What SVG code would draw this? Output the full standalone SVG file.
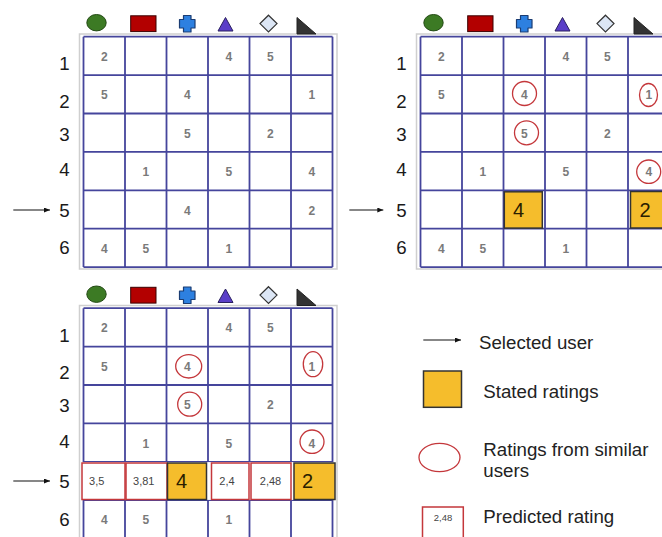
<svg xmlns="http://www.w3.org/2000/svg" width="662" height="537" viewBox="0 0 662 537">
<defs>
<style>
text{font-family:"Liberation Sans",Arial,sans-serif}
.n{font-size:12px;font-weight:bold;fill:#7a7a7a;text-anchor:middle}
.lbl{font-size:18.7px;fill:#1a1a1a;text-anchor:middle}
.big{font-size:20px;fill:#2a2000}
.pr{font-size:11px;fill:#444;text-anchor:middle}
.lg{font-size:18.7px;fill:#222}
.frame{fill:#fff;stroke:#cfcfcf;stroke-width:1.5}
.grid{fill:none;stroke:#45459c;stroke-width:1.8}
.c{fill:none;stroke:#c4373b;stroke-width:1.3}
.y{fill:#f5bd2c;stroke:#333;stroke-width:1.5}
.p{fill:#fff;stroke:#c4373b;stroke-width:1.5}
.arr{stroke:#111;stroke-width:1.2;fill:none}
</style>
<marker id="ah" markerUnits="userSpaceOnUse" markerWidth="7" markerHeight="6" refX="6" refY="2.5" orient="auto">
<path d="M0,0 L6,2.5 L0,5 z" fill="#111"/>
</marker>
</defs>
<rect width="662" height="537" fill="#fff"/>

<!-- Panel 1 -->
<g id="panel-original">
<rect class="frame" x="79.5" y="34" width="257.5" height="235"/>
<g id="icons-1">
<ellipse cx="96.5" cy="22.7" rx="9.7" ry="8.2" fill="#3c7a24" stroke="#234a14" stroke-width="1"/>
<rect x="130.7" y="15.8" width="25.3" height="15.8" fill="#b30000" stroke="#3a0000" stroke-width="1"/>
<path d="M183.5,15.5 h7.5 v4 h4 v8.5 h-4 v4 h-7.5 v-4 h-4 v-8.5 h4 z" fill="#2d80e0" stroke="#1b3d73" stroke-width="1.2" stroke-linejoin="round"/>
<polygon points="218,31 225.5,17.5 233,31" fill="#5a3ec8" stroke="#2a2060" stroke-width="1"/>
<polygon points="268.5,15.2 277,23.6 268.5,32 260,23.6" fill="#dce6f5" stroke="#333" stroke-width="1.2"/>
<polygon points="297,17.5 297,34 316,34" fill="#333" stroke="#222" stroke-width="1"/>
</g>
<path class="grid" d="M83.5,36.7V267.1M125,36.7V267.1M166.5,36.7V267.1M208,36.7V267.1M249.5,36.7V267.1M291,36.7V267.1M332.5,36.7V267.1M83.5,36.7H332.5M83.5,75.1H332.5M83.5,113.5H332.5M83.5,151.9H332.5M83.5,190.3H332.5M83.5,228.7H332.5M83.5,267.1H332.5"/>
<g id="rowlabels-1">
<text class="lbl" x="64.5" y="70.3">1</text>
<text class="lbl" x="64.5" y="107.7">2</text>
<text class="lbl" x="64.5" y="140.5">3</text>
<text class="lbl" x="64.5" y="176.2">4</text>
<text class="lbl" x="64.5" y="216.5">5</text>
<text class="lbl" x="64.5" y="254.3">6</text>
</g>
<g id="cells-1">
<text class="n" x="104.25" y="60.9">2</text>
<text class="n" x="228.75" y="60.9">4</text>
<text class="n" x="270.25" y="60.9">5</text>
<text class="n" x="104.25" y="99.3">5</text>
<text class="n" x="187.25" y="99.3">4</text>
<text class="n" x="311.75" y="99.3">1</text>
<text class="n" x="187.25" y="137.7">5</text>
<text class="n" x="270.25" y="137.7">2</text>
<text class="n" x="145.75" y="176.1">1</text>
<text class="n" x="228.75" y="176.1">5</text>
<text class="n" x="311.75" y="176.1">4</text>
<text class="n" x="187.25" y="214.5">4</text>
<text class="n" x="311.75" y="214.5">2</text>
<text class="n" x="104.25" y="252.9">4</text>
<text class="n" x="145.75" y="252.9">5</text>
<text class="n" x="228.75" y="252.9">1</text>
</g>
</g>

<!-- Panel 2 -->
<g id="panel-similar" transform="translate(337,0)">
<rect class="frame" x="79.5" y="34" width="257.5" height="235"/>
<g id="icons-2">
<ellipse cx="96.5" cy="22.7" rx="9.7" ry="8.2" fill="#3c7a24" stroke="#234a14" stroke-width="1"/>
<rect x="130.7" y="15.8" width="25.3" height="15.8" fill="#b30000" stroke="#3a0000" stroke-width="1"/>
<path d="M183.5,15.5 h7.5 v4 h4 v8.5 h-4 v4 h-7.5 v-4 h-4 v-8.5 h4 z" fill="#2d80e0" stroke="#1b3d73" stroke-width="1.2" stroke-linejoin="round"/>
<polygon points="218,31 225.5,17.5 233,31" fill="#5a3ec8" stroke="#2a2060" stroke-width="1"/>
<polygon points="268.5,15.2 277,23.6 268.5,32 260,23.6" fill="#dce6f5" stroke="#333" stroke-width="1.2"/>
<polygon points="297,17.5 297,34 316,34" fill="#333" stroke="#222" stroke-width="1"/>
</g>
<path class="grid" d="M83.5,36.7V267.1M125,36.7V267.1M166.5,36.7V267.1M208,36.7V267.1M249.5,36.7V267.1M291,36.7V267.1M332.5,36.7V267.1M83.5,36.7H332.5M83.5,75.1H332.5M83.5,113.5H332.5M83.5,151.9H332.5M83.5,190.3H332.5M83.5,228.7H332.5M83.5,267.1H332.5"/>
<g id="rowlabels-2">
<text class="lbl" x="64.5" y="70.3">1</text>
<text class="lbl" x="64.5" y="107.7">2</text>
<text class="lbl" x="64.5" y="140.5">3</text>
<text class="lbl" x="64.5" y="176.2">4</text>
<text class="lbl" x="64.5" y="216.5">5</text>
<text class="lbl" x="64.5" y="254.3">6</text>
</g>
<g id="stated-2">
<rect class="y" x="167.3" y="191.8" width="38" height="36.3"/>
<rect class="y" x="293.5" y="191.5" width="41" height="36.5"/>
<text class="big" x="176" y="217">4</text>
<text class="big" x="302.5" y="217">2</text>
</g>
<g id="cells-2">
<text class="n" x="104.25" y="60.9">2</text>
<text class="n" x="228.75" y="60.9">4</text>
<text class="n" x="270.25" y="60.9">5</text>
<text class="n" x="104.25" y="99.3">5</text>
<text class="n" x="187.25" y="99.3">4</text>
<text class="n" x="311.75" y="99.3">1</text>
<text class="n" x="187.25" y="137.7">5</text>
<text class="n" x="270.25" y="137.7">2</text>
<text class="n" x="145.75" y="176.1">1</text>
<text class="n" x="228.75" y="176.1">5</text>
<text class="n" x="311.75" y="176.1">4</text>
<text class="n" x="104.25" y="252.9">4</text>
<text class="n" x="145.75" y="252.9">5</text>
<text class="n" x="228.75" y="252.9">1</text>
</g>
<g id="similar-2">
<ellipse class="c" cx="187.5" cy="93.5" rx="12" ry="12"/>
<ellipse class="c" cx="311.5" cy="95" rx="9" ry="11.5"/>
<ellipse class="c" cx="189.5" cy="132.8" rx="12" ry="12"/>
<ellipse class="c" cx="311.7" cy="171.7" rx="12" ry="11.7"/>
</g>
</g>

<!-- Panel 3 -->
<g id="panel-predicted" transform="translate(0,271.5)">
<rect class="frame" x="79.5" y="34" width="257.5" height="235"/>
<g id="icons-3">
<ellipse cx="96.5" cy="22.7" rx="9.7" ry="8.2" fill="#3c7a24" stroke="#234a14" stroke-width="1"/>
<rect x="130.7" y="15.8" width="25.3" height="15.8" fill="#b30000" stroke="#3a0000" stroke-width="1"/>
<path d="M183.5,15.5 h7.5 v4 h4 v8.5 h-4 v4 h-7.5 v-4 h-4 v-8.5 h4 z" fill="#2d80e0" stroke="#1b3d73" stroke-width="1.2" stroke-linejoin="round"/>
<polygon points="218,31 225.5,17.5 233,31" fill="#5a3ec8" stroke="#2a2060" stroke-width="1"/>
<polygon points="268.5,15.2 277,23.6 268.5,32 260,23.6" fill="#dce6f5" stroke="#333" stroke-width="1.2"/>
<polygon points="297,17.5 297,34 316,34" fill="#333" stroke="#222" stroke-width="1"/>
</g>
<path class="grid" d="M83.5,36.7V267.1M125,36.7V267.1M166.5,36.7V267.1M208,36.7V267.1M249.5,36.7V267.1M291,36.7V267.1M332.5,36.7V267.1M83.5,36.7H332.5M83.5,75.1H332.5M83.5,113.5H332.5M83.5,151.9H332.5M83.5,190.3H332.5M83.5,228.7H332.5M83.5,267.1H332.5"/>
<g id="rowlabels-3">
<text class="lbl" x="64.5" y="70.3">1</text>
<text class="lbl" x="64.5" y="107.7">2</text>
<text class="lbl" x="64.5" y="140.5">3</text>
<text class="lbl" x="64.5" y="176.2">4</text>
<text class="lbl" x="64.5" y="216.5">5</text>
<text class="lbl" x="64.5" y="254.3">6</text>
</g>
<rect x="81" y="190.6" width="255" height="37.8" fill="#fff"/>
<g id="predicted-3">
<rect class="p" x="82" y="191.5" width="43" height="36.5"/>
<rect class="p" x="126" y="191.5" width="41" height="36.5"/>
<rect class="p" x="211.5" y="191.5" width="37.5" height="36.5"/>
<rect class="p" x="251" y="191.5" width="40" height="36.5"/>
<text class="pr" x="96.7" y="213">3,5</text>
<text class="pr" x="143.8" y="213">3,81</text>
<text class="pr" x="227" y="213">2,4</text>
<text class="pr" x="270.5" y="213">2,48</text>
</g>
<g id="stated-3">
<rect class="y" x="167.5" y="191.5" width="39" height="36.5"/>
<rect class="y" x="294" y="191.5" width="41" height="36.5"/>
<text class="big" x="176" y="216">4</text>
<text class="big" x="302" y="216">2</text>
</g>
<g id="cells-3">
<text class="n" x="104.25" y="60.9">2</text>
<text class="n" x="228.75" y="60.9">4</text>
<text class="n" x="270.25" y="60.9">5</text>
<text class="n" x="104.25" y="99.3">5</text>
<text class="n" x="187.25" y="99.3">4</text>
<text class="n" x="311.75" y="99.3">1</text>
<text class="n" x="187.25" y="137.7">5</text>
<text class="n" x="270.25" y="137.7">2</text>
<text class="n" x="145.75" y="176.1">1</text>
<text class="n" x="228.75" y="176.1">5</text>
<text class="n" x="311.75" y="176.1">4</text>
<text class="n" x="104.25" y="252.9">4</text>
<text class="n" x="145.75" y="252.9">5</text>
<text class="n" x="228.75" y="252.9">1</text>
</g>
<g id="similar-3">
<ellipse class="c" cx="188.7" cy="94.8" rx="13" ry="11.7"/>
<ellipse class="c" cx="313" cy="92.7" rx="9.7" ry="12.5"/>
<ellipse class="c" cx="189.7" cy="132.7" rx="12" ry="12"/>
<ellipse class="c" cx="312" cy="170.2" rx="12" ry="11.7"/>
</g>
</g>

<!-- Legend -->
<g id="legend">
<g id="legend-selected">
<text class="lg" x="479" y="348.6">Selected user</text>
</g>
<g id="legend-stated">
<rect class="y" x="423.5" y="371" width="38" height="36.3"/>
<text class="lg" x="483.3" y="398.4">Stated ratings</text>
</g>
<g id="legend-similar">
<ellipse class="c" cx="439.5" cy="457.5" rx="20.5" ry="14.2"/>
<text class="lg" x="483.3" y="456.3">Ratings from similar</text>
<text class="lg" x="483.3" y="476.5">users</text>
</g>
<g id="legend-predicted">
<rect class="p" x="422.5" y="507" width="40.8" height="36"/>
<text class="pr" x="443" y="521" style="font-size:9.5px">2,48</text>
<text class="lg" x="483.3" y="523.4">Predicted rating</text>
</g>
</g>

<!-- Connectors -->
<g id="connectors">
<line class="arr" x1="13.3" y1="210" x2="50" y2="210" marker-end="url(#ah)"/>
<line class="arr" x1="349.3" y1="210" x2="383.3" y2="210" marker-end="url(#ah)"/>
<line class="arr" x1="13.3" y1="481" x2="50" y2="481" marker-end="url(#ah)"/>
<line class="arr" x1="423.3" y1="340" x2="461" y2="340" marker-end="url(#ah)"/>
</g>
</svg>
